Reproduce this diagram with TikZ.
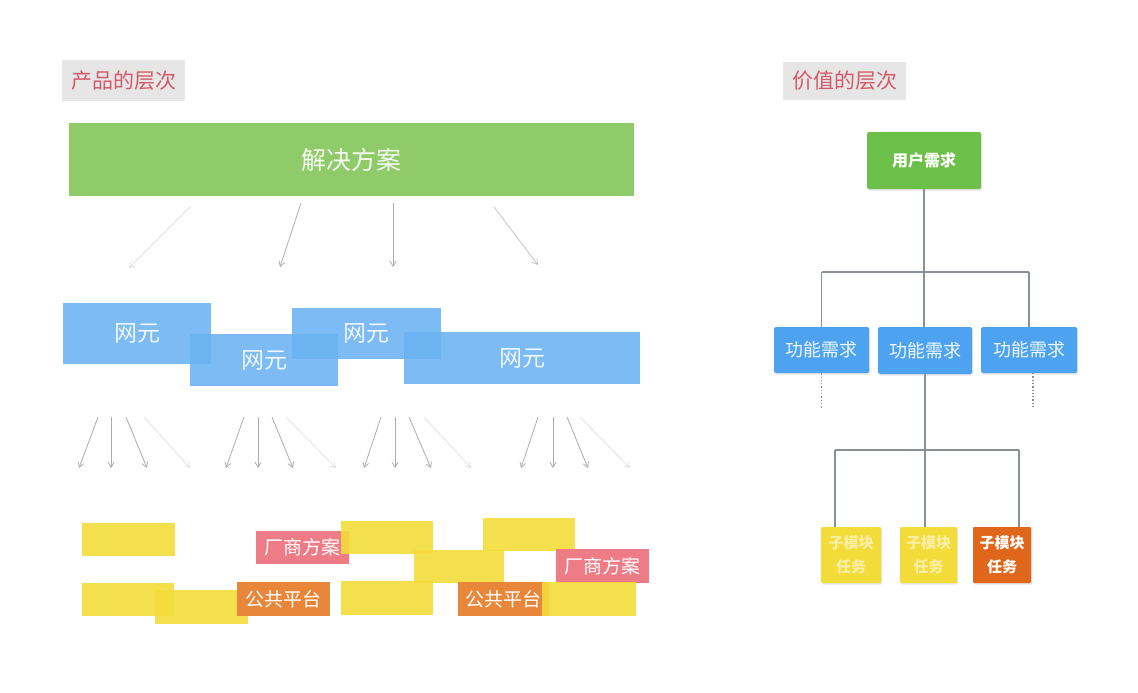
\documentclass[tikz,border=0pt]{standalone}
\usepackage{fontspec}
\newfontfamily\cjk{Noto Sans CJK SC}
\usetikzlibrary{arrows.meta,shadows}
\definecolor{solgreen}{HTML}{8FCB68}
\definecolor{needgreen}{HTML}{6CC04A}
\definecolor{neblue}{HTML}{6AB2F2}
\definecolor{fnblue}{HTML}{4DA3EF}
\definecolor{ylw}{HTML}{F3DC3A}
\definecolor{pnk}{HTML}{EE7C86}
\definecolor{org}{HTML}{E8863A}
\definecolor{dorg}{HTML}{E0661C}
\definecolor{titlebg}{HTML}{E6E6E6}
\definecolor{titlefg}{HTML}{D45A6A}
\definecolor{arrowgray}{HTML}{A8ADB3}
\definecolor{linegray}{HTML}{8A9098}
\tikzset{
  box/.style={rectangle, inner sep=0pt, text=white, font=\cjk},
  titlebox/.style={box, fill=titlebg, text=titlefg, font=\cjk\fontsize{21}{24}\selectfont},
  solbox/.style={box, fill=solgreen, text=white!92!solgreen, font=\cjk\fontsize{25}{30}\selectfont},
  nebox/.style={box, fill=neblue, fill opacity=0.88, text opacity=1, text=white!90!neblue, font=\cjk\fontsize{23}{28}\selectfont},
  ybox/.style={box, fill=ylw, fill opacity=0.9, minimum width=93pt, minimum height=33pt},
  pbox/.style={box, fill=pnk, minimum width=93pt, minimum height=33pt, font=\cjk\fontsize{19}{22}\selectfont},
  obox/.style={box, fill=org, minimum width=93pt, minimum height=34pt, font=\cjk\fontsize{19}{22}\selectfont},
  needbox/.style={box, fill=needgreen, rounded corners=1.5pt, font=\cjk\bfseries\fontsize{16}{19}\selectfont,
     drop shadow={opacity=0.2, shadow xshift=1pt, shadow yshift=-1.5pt}},
  fnbox/.style={box, fill=fnblue, rounded corners=1.5pt, text=white!92!fnblue, font=\cjk\fontsize{18}{22}\selectfont,
     drop shadow={opacity=0.2, shadow xshift=1pt, shadow yshift=-1.5pt}},
  subbox/.style={box, rounded corners=1pt, minimum height=56pt, align=center,
     font=\cjk\bfseries\fontsize{15}{24}\selectfont,
     drop shadow={opacity=0.2, shadow xshift=1pt, shadow yshift=-1.5pt}},
  arr/.style={draw=arrowgray, line width=0.8pt, -{Straight Barb[length=5pt,width=6pt]}},
  farr/.style={arr, draw opacity=0.35},
  conn/.style={draw=linegray, line width=1.2pt},
  dotconn/.style={draw=linegray, line width=1.3pt, dotted}
}
\begin{document}
\begin{tikzpicture}[x=1pt, y=-1pt]
\useasboundingbox (0,0) rectangle (1138,693);
\fill[white] (0,0) rectangle (1138,693);

% titles
\node[titlebox, minimum width=123pt, minimum height=41pt] (t1) at (123.5,80.5) {产品的层次};
\node[titlebox, minimum width=123pt, minimum height=38pt] (t2) at (844.5,81) {价值的层次};

% solution bar
\node[solbox, minimum width=565pt, minimum height=73pt] (sol) at (351.5,159.5) {解决方案};

% arrows from the solution bar
\coordinate (u1s) at (190,207); \coordinate (u1e) at (129,268);
\coordinate (u2s) at (301,203); \coordinate (u2e) at (280,267);
\coordinate (u3s) at (393,203); \coordinate (u3e) at (393,267);
\coordinate (u4s) at (494,207); \coordinate (u4e) at (538,265);
\draw[farr] (u1s) -- (u1e);
\draw[arr] (u2s) -- (u2e);
\draw[arr] (u3s) -- (u3e);
\draw[arr, draw opacity=0.7] (u4s) -- (u4e);

% network elements
\node[nebox, minimum width=148pt, minimum height=61pt] (nA) at (137,333.5) {网元};
\node[nebox, minimum width=148pt, minimum height=52pt] (nB) at (264,360) {网元};
\node[nebox, minimum width=149pt, minimum height=51pt] (nC) at (366.5,333.5) {网元};
\node[nebox, minimum width=236pt, minimum height=52pt] (nD) at (522,358) {网元};

% lower arrows
\foreach \s/\e/\n in {98/79/a1,111/111/a2,126/147/a3,
                      244/226/b1,258/258/b2,272/293/b3,
                      381/364/c1,395/395/c2,409/431/c3,
                      538/521/d1,553/553/d2,567/588/d3}{
  \coordinate (\n s) at (\s,417); \coordinate (\n e) at (\e,468);
  \draw[arr] (\n s) -- (\n e);
}
\foreach \s/\e/\n in {144/190/a4,286/336/b4,424/471/c4,580/630/d4}{
  \coordinate (\n s) at (\s,417); \coordinate (\n e) at (\e,468);
  \draw[farr] (\n s) -- (\n e);
}

% bottom boxes
\node[ybox] (y1) at (128.5,539) {};
\node[pbox] (r1) at (302.5,547.5) {厂商方案};
\node[ybox, minimum width=92pt] (y2) at (387,537) {};
\node[ybox, minimum width=92pt] (y3) at (529,534) {};
\node[ybox, minimum width=90pt] (y4) at (459,566) {};
\node[pbox, minimum height=34pt] (r2) at (602.5,566) {厂商方案};
\node[ybox, minimum height=34pt] (y6) at (201.5,607) {};
\node[ybox, minimum width=92pt] (y5) at (128,599) {};
\node[obox] (o1) at (283.5,599) {公共平台};
\node[ybox, minimum width=92pt, minimum height=34pt] (y7) at (387,598) {};
\node[obox, minimum width=91pt] (o2) at (503.5,599) {公共平台};
\node[ybox, minimum width=94pt, minimum height=34pt] (y8) at (589,599) {};

% right side: value hierarchy
\node[needbox, minimum width=114pt, minimum height=57pt] (need) at (924,160.5) {用户需求};
\node[fnbox, minimum width=95pt, minimum height=46pt] (f1) at (821.5,350) {功能需求};
\node[fnbox, minimum width=94pt, minimum height=47pt] (f2) at (925,350.5) {功能需求};
\node[fnbox, minimum width=96pt, minimum height=46pt] (f3) at (1029,350) {功能需求};
\node[subbox, fill=ylw, minimum width=60pt, text=white!55!ylw] (s1) at (851,555) {子模块\\任务};
\node[subbox, fill=ylw, minimum width=57pt, text=white!55!ylw] (s2) at (928.5,555) {子模块\\任务};
\node[subbox, fill=dorg, minimum width=58pt] (s3) at (1002,555) {子模块\\任务};

\coordinate (j1) at (925,272);
\coordinate (j1l) at (821.5,272);
\coordinate (j1r) at (1029,272);
\draw[conn] (need.south) -- (need.south |- f2.north);
\draw[conn] (j1l) -- (j1r);
\draw[conn] (j1l) -- (f1.north);
\draw[conn] (j1r) -- (f3.north);

\coordinate (d1) at (821.5,408);
\coordinate (d3s) at (1033,373);
\coordinate (d3) at (1033,408);
\draw[dotconn] (f1.south) -- (d1);
\draw[dotconn] (d3s) -- (d3);

\coordinate (j2) at (925,450);
\coordinate (j2l) at (835,450);
\coordinate (j2r) at (1019,450);
\draw[conn] (f2.south) -- (j2);
\draw[conn] (j2l) -- (j2r);
\draw[conn] (j2l) -- (j2l |- s1.north);
\draw[conn] (j2) -- (j2 |- s2.north);
\draw[conn] (j2r) -- (j2r |- s3.north);
\end{tikzpicture}
\end{document}
